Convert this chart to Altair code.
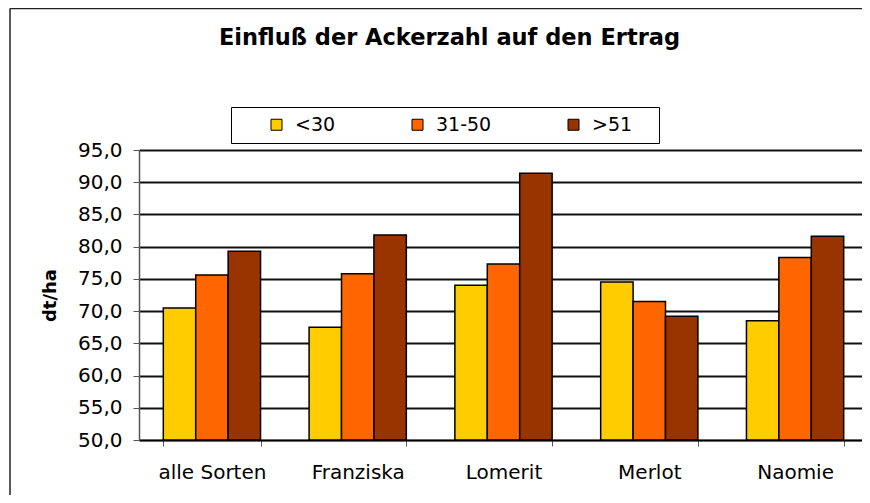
import altair as alt
import pandas as pd

sorten = ["alle Sorten", "Franziska", "Lomerit", "Merlot", "Naomie"]
klassen = ["<30", "31-50", ">51"]
werte_lt30 = [70.5, 67.5, 74.0, 74.5, 68.5]
werte_31_50 = [75.6, 75.8, 77.3, 71.5, 78.3]
werte_gt51 = [79.3, 81.8, 91.4, 69.2, 81.6]
farben = ["#FFCC00", "#FF6600", "#993300"]
y_ticks = [50, 55, 60, 65, 70, 75, 80, 85, 90, 95]
y_basis = 50

rows = []
for klasse, werte in zip(klassen, [werte_lt30, werte_31_50, werte_gt51]):
    for sorte, w in zip(sorten, werte):
        rows.append({"Sorte": sorte, "Ackerzahl": klasse, "Ertrag": w})
df = pd.DataFrame(rows)

FONT = "DejaVu Sans"

bars = alt.Chart(df).mark_bar(stroke="black", strokeWidth=1.5).encode(
    x=alt.X("Sorte:N", sort=sorten,
            scale=alt.Scale(paddingInner=0.333, paddingOuter=0.1667),
            axis=alt.Axis(title=None, labelAngle=0, tickBand="extent",
                          labelFontSize=20, labelFont=FONT, labelColor="black",
                          labelPadding=16, tickSize=6, tickColor="#555",
                          domainColor="black", domainWidth=1.5, grid=False)),
    xOffset=alt.XOffset("Ackerzahl:N", sort=klassen,
                        scale=alt.Scale(paddingInner=0, paddingOuter=0)),
    y=alt.Y("Ertrag:Q",
            scale=alt.Scale(domain=[50, 95], zero=False, nice=False),
            axis=alt.Axis(title="dt/ha", values=y_ticks,
                          labelExpr="replace(format(datum.value, '.1f'), '.', ',')",
                          labelFontSize=20, labelFont=FONT, labelColor="black",
                          labelPadding=11, tickSize=6, tickColor="#555",
                          domainColor="#555", domainWidth=1.5,
                          grid=True, gridColor="#111", gridWidth=1.8,
                          titleFont=FONT, titleFontSize=18, titleFontWeight="bold",
                          titleColor="black", titleAngle=270, titleAlign="center",
                          titleBaseline="alphabetic", titleX=-84, titleY=145)),
    y2=alt.datum(y_basis),
    color=alt.Color("Ackerzahl:N", sort=klassen,
                    scale=alt.Scale(domain=klassen, range=farben),
                    legend=alt.Legend(title=None, orient="none", legendX=92, legendY=-43,
                                      direction="horizontal", strokeColor="black",
                                      padding=8, symbolType="square", symbolSize=121,
                                      symbolStrokeColor="black", symbolStrokeWidth=1,
                                      symbolOffset=28, columnPadding=44, labelOffset=9,
                                      labelFont=FONT, labelFontSize=19, labelColor="black",
                                      labelExpr="datum.label == '>51' ? datum.label + '\u00a0\u00a0\u00a0\u200b' : datum.label")),
)

rahmen_df = pd.DataFrame({"rahmen": [1]})
frame_left = alt.Chart(rahmen_df).mark_rule(stroke="#222", strokeWidth=1.5).encode(
    x=alt.value(-129), y=alt.value(-141.5), y2=alt.value(400))
frame_top = alt.Chart(rahmen_df).mark_rule(stroke="#222", strokeWidth=1.5).encode(
    x=alt.value(-129), x2=alt.value(760), y=alt.value(-141.5))

chart = alt.layer(frame_left, frame_top, bars).properties(
    width=729, height=290,
    title=alt.TitleParams("Einfluß der Ackerzahl auf den Ertrag", font=FONT, fontSize=22.5,
                          fontWeight="bold", color="black", anchor="middle",
                          baseline="alphabetic", dx=-54, offset=-60),
    autosize=alt.AutoSizeParams(type="none"),
    padding={"left": 131, "top": 142, "right": -6, "bottom": 55},
).configure_view(stroke="#777", strokeWidth=2).configure(background="white")

chart.save("out.html", embed_options={"renderer": "svg", "actions": False})
